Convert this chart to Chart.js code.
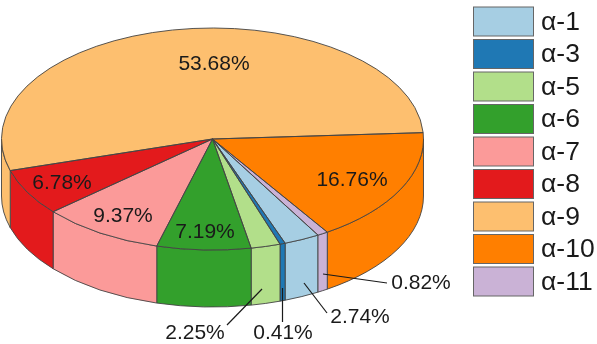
<!DOCTYPE html>
<html>
<head>
<meta charset="utf-8">
<style>
    html, body { margin: 0; padding: 0; background: #fff; }
    canvas { display: block; }
</style>
<script src="https://cdn.jsdelivr.net/npm/chart.js@4"></script>
</head>
<body>
<canvas id="pieChart" width="597" height="344"></canvas>
<script>
// Chart data (legend order, clockwise round the pie)
const categories = ['α-1', 'α-3', 'α-5', 'α-6', 'α-7', 'α-8', 'α-9', 'α-10', 'α-11'];
const shares = [2.74, 0.41, 2.25, 7.19, 9.37, 6.78, 53.68, 16.76, 0.82];
const colors = ['#a6cee3', '#1f78b4', '#b2df8a', '#33a02c', '#fb9a99', '#e31a1c', '#fdbf6f', '#ff7f00', '#cab2d6'];

// Where the flattened pie sits on the page
const pie = { x: 212.5, y: 139, rx: 211, ry: 111, depth: 57 };
const outlineColor = '#444';

// Percentage label positions, same order as categories
const labelSpots = [
    { x: 360, y: 317, line: [304, 283, 327, 313] },
    { x: 283, y: 333, line: [282.5, 288, 282.5, 322] },
    { x: 195, y: 333, line: [262, 289, 227, 325] },
    { x: 205, y: 232 },
    { x: 123, y: 216 },
    { x: 62, y: 183 },
    { x: 214, y: 64 },
    { x: 352, y: 180 },
    { x: 421, y: 283, line: [323, 274, 387, 283] }
];

const legendBox = { x: 473.5, y: 7, width: 60, height: 29, step: 32.5, textX: 541 };

function squash(ctx, el) {
    ctx.translate(pie.x, pie.y);
    ctx.scale(pie.rx / el.outerRadius, pie.ry / el.outerRadius);
    ctx.translate(-el.x, -el.y);
}

// Front wall of the pie, only the part of each slice that faces the viewer
function drawWall(ctx, el, color) {
    for (let turn = -1; turn <= 1; turn++) {
        const from = Math.max(el.startAngle + turn * 2 * Math.PI, 0);
        const to = Math.min(el.endAngle + turn * 2 * Math.PI, Math.PI);
        if (to <= from) continue;

        ctx.beginPath();
        ctx.save();
        squash(ctx, el);
        ctx.arc(el.x, el.y, el.outerRadius, from, to);
        ctx.restore();
        ctx.save();
        ctx.translate(0, pie.depth);
        squash(ctx, el);
        ctx.arc(el.x, el.y, el.outerRadius, to, from, true);
        ctx.restore();
        ctx.closePath();
        ctx.fillStyle = color;
        ctx.fill();
        ctx.strokeStyle = outlineColor;
        ctx.lineWidth = 0.9;
        ctx.stroke();
    }
}

const pie3d = {
    id: 'pie3d',
    beforeDatasetsDraw(chart) {
        const ctx = chart.ctx;
        const arcs = chart.getDatasetMeta(0).data;
        arcs.forEach((el, i) => drawWall(ctx, el, colors[i]));
        ctx.save();
        squash(ctx, arcs[0]);
    },
    afterDatasetsDraw(chart) {
        const ctx = chart.ctx;
        ctx.restore();

        // Outlines are stroked outside the squash so the line stays even
        chart.getDatasetMeta(0).data.forEach(el => {
            ctx.beginPath();
            ctx.save();
            squash(ctx, el);
            ctx.moveTo(el.x, el.y);
            ctx.arc(el.x, el.y, el.outerRadius, el.startAngle, el.endAngle);
            ctx.closePath();
            ctx.restore();
            ctx.strokeStyle = outlineColor;
            ctx.lineWidth = 0.9;
            ctx.stroke();
        });
    },
    afterDraw(chart) {
        const ctx = chart.ctx;
        ctx.save();
        ctx.textBaseline = 'middle';

        // Percentage labels and leader lines
        ctx.font = '21px "Liberation Sans"';
        ctx.textAlign = 'center';
        ctx.fillStyle = '#1a1a1a';
        shares.forEach((value, i) => {
            const spot = labelSpots[i];
            ctx.fillText(value.toFixed(2) + '%', spot.x, spot.y);
            if (spot.line) {
                ctx.beginPath();
                ctx.moveTo(spot.line[0], spot.line[1]);
                ctx.lineTo(spot.line[2], spot.line[3]);
                ctx.strokeStyle = '#1a1a1a';
                ctx.lineWidth = 1.2;
                ctx.stroke();
            }
        });

        // Legend
        ctx.font = '26.5px "Liberation Sans"';
        ctx.textAlign = 'left';
        categories.forEach((name, i) => {
            const top = legendBox.y + i * legendBox.step;
            ctx.fillStyle = colors[i];
            ctx.fillRect(legendBox.x, top, legendBox.width, legendBox.height);
            ctx.strokeStyle = '#666';
            ctx.lineWidth = 1;
            ctx.strokeRect(legendBox.x, top, legendBox.width, legendBox.height);
            ctx.fillStyle = '#1a1a1a';
            ctx.fillText(name, legendBox.textX, top + legendBox.height / 2 + 1);
        });
        ctx.restore();
    }
};

new Chart(document.getElementById('pieChart').getContext('2d'), {
    type: 'pie',
    data: {
        labels: categories,
        datasets: [{
            data: shares,
            backgroundColor: colors,
            borderWidth: 0,
            clip: false
        }]
    },
    options: {
        responsive: false,
        animation: false,
        rotation: 150,
        plugins: {
            legend: { display: false },
            tooltip: { enabled: false }
        }
    },
    plugins: [pie3d]
});
</script>
</body>
</html>
